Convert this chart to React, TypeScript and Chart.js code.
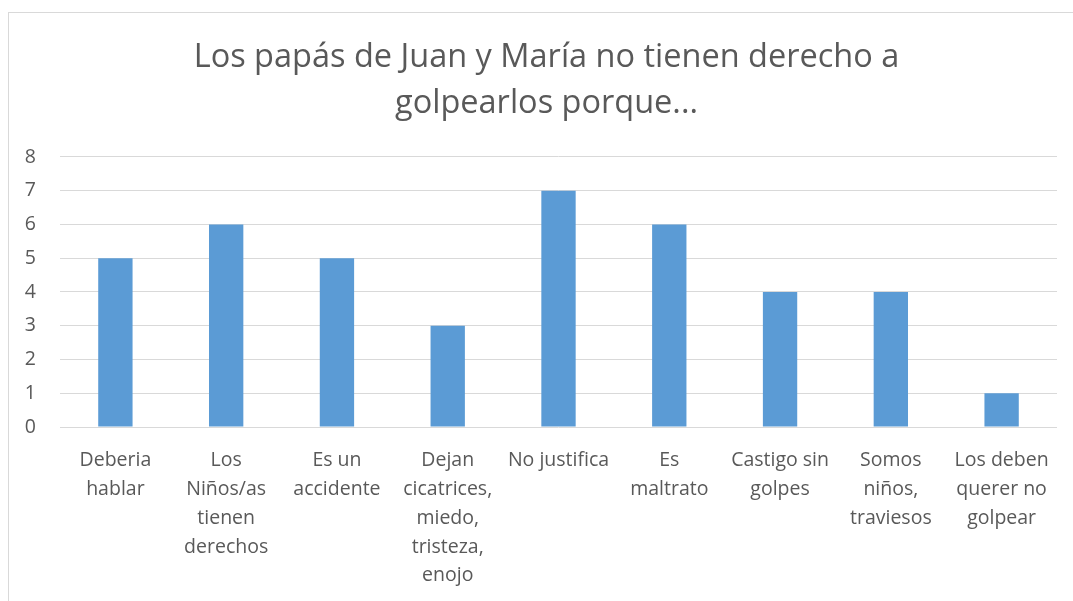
import React, { useEffect, useRef } from "react";
import { Chart, registerables } from "chart.js";

Chart.register(...registerables);

const categories: string[][] = [
  ["Deberia", "hablar"],
  ["Los", "Niños/as", "tienen", "derechos"],
  ["Es un", "accidente"],
  ["Dejan", "cicatrices,", "miedo,", "tristeza,", "enojo"],
  ["No justifica"],
  ["Es", "maltrato"],
  ["Castigo sin", "golpes"],
  ["Somos", "niños,", "traviesos"],
  ["Los deben", "querer no", "golpear"],
];
const values: number[] = [5, 6, 5, 3, 7, 6, 4, 4, 1];
const titleLines: string[] = ["Los papás de Juan y María no tienen derecho a", "golpearlos porque..."];
const yMin = 0;
const yMax = 8;
const yStep = 1;

const FONT = "'Open Sans', sans-serif";
const TEXT = "#595959";
const GRID = "#d9d9d9";
const BAR = "#5B9BD5";

const centerTitle = {
  id: "centerTitle",
  afterLayout(chart: any) {
    const t = chart.titleBlock;
    if (t) {
      const w = chart.width;
      const half = (t.right - t.left) / 2;
      t.left = w / 2 - half;
      t.right = w / 2 + half;
    }
  },
};

export default function App() {
  const ref = useRef<HTMLCanvasElement | null>(null);
  useEffect(() => {
    if (!ref.current) return;
    const chart = new Chart(ref.current, {
      type: "bar",
      data: {
        labels: categories,
        datasets: [
          {
            data: values,
            backgroundColor: BAR,
            borderWidth: 0,
            categoryPercentage: 1,
            barPercentage: 0.31,
          },
        ],
      },
      plugins: [centerTitle],
      options: {
        animation: false,
        responsive: false,
        maintainAspectRatio: false,
        layout: { padding: { left: 0, right: 27, top: 0, bottom: 0 } },
        plugins: {
          legend: { display: false },
          tooltip: { enabled: false },
          title: {
            display: true,
            text: titleLines,
            color: TEXT,
            font: { family: FONT, size: 32.5, weight: "normal", lineHeight: 1.415 },
            padding: { top: 22, bottom: 30 },
          },
        },
        scales: {
          x: {
            grid: { display: false, drawTicks: false },
            border: { display: false },
            ticks: {
              color: TEXT,
              font: { family: FONT, size: 19.5, lineHeight: 1.48 },
              maxRotation: 0,
              minRotation: 0,
              autoSkip: false,
              padding: 19,
            },
            afterFit: (s: any) => {
              s.height = 186;
            },
          },
          y: {
            min: yMin,
            max: yMax,
            grid: { color: GRID, lineWidth: 1, drawTicks: false },
            border: { display: false },
            ticks: {
              stepSize: yStep,
              color: TEXT,
              font: { family: FONT, size: 19.5 },
              padding: 24,
            },
            afterFit: (s: any) => {
              s.width = 51;
            },
          },
        },
      },
    });
    return () => chart.destroy();
  }, []);
  return (
    <div
      style={{
        position: "fixed",
        left: 8,
        top: 12,
        width: 1075,
        height: 600,
        border: "1px solid #d9d9d9",
        background: "#fff",
      }}
    >
      <canvas ref={ref} width={1075} height={600} style={{ display: "block" }} />
    </div>
  );
}
